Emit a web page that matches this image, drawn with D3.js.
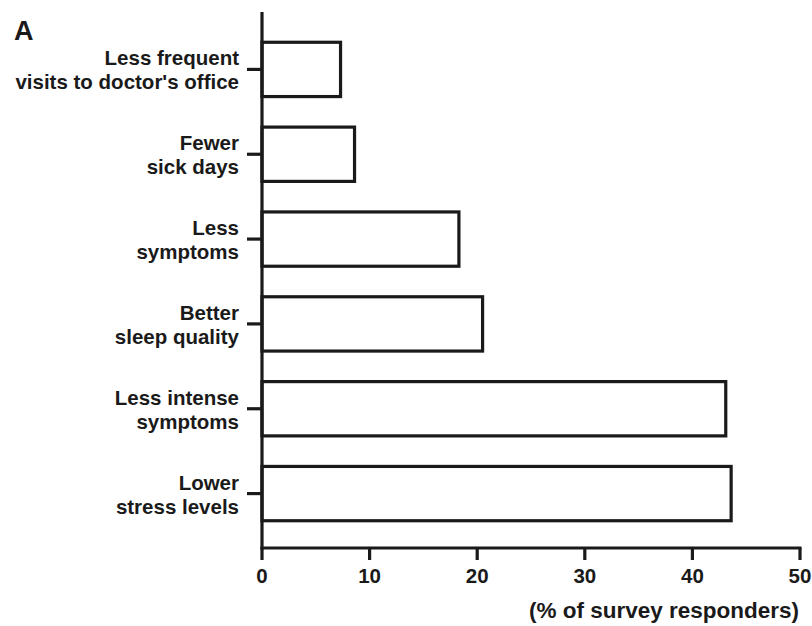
<!DOCTYPE html>
<html><head><meta charset="utf-8">
<script src="https://cdn.jsdelivr.net/npm/d3@7"></script>
<style>body{margin:0;background:#fff}svg{display:block}text{font-family:"Liberation Sans",Arial,Helvetica,sans-serif;font-weight:bold;fill:#1a1a1a}</style>
</head><body>
<svg id="c" width="812" height="626"></svg>
<script>
const categories = [
  ["Less frequent", "visits to doctor's office"],
  ["Fewer", "sick days"],
  ["Less", "symptoms"],
  ["Better", "sleep quality"],
  ["Less intense", "symptoms"],
  ["Lower", "stress levels"]
];
const values = [7.3, 8.6, 18.3, 20.5, 43.1, 43.6];
const xTicks = [0, 10, 20, 30, 40, 50];
const xTitle = "(% of survey responders)";
const panelLabel = "A";

const svg = d3.select("#c");
const ink = "#1a1a1a";
const x0 = 262, x1 = 800, yTop = 12, yAxis = 548;
const x = d3.scaleLinear().domain([0, 50]).range([x0, x1]);
const y = d3.scaleBand().domain(d3.range(categories.length)).range([27, 536]).paddingInner(0.36).paddingOuter(0.18);

// bars
svg.append("g").selectAll("rect").data(values).join("rect")
  .attr("x", x(0)).attr("y", (d, i) => y(i))
  .attr("width", d => x(d) - x(0)).attr("height", y.bandwidth())
  .attr("fill", "#fff").attr("stroke", ink).attr("stroke-width", 3.2);

// y axis
const ya = svg.append("g");
ya.append("line").attr("x1", x0).attr("x2", x0).attr("y1", yTop).attr("y2", yAxis + 1.5)
  .attr("stroke", ink).attr("stroke-width", 3.2);
ya.selectAll("line.t").data(categories).join("line").attr("class", "t")
  .attr("x1", x0 - 15).attr("x2", x0).attr("y1", (d, i) => y(i) + y.bandwidth() / 2).attr("y2", (d, i) => y(i) + y.bandwidth() / 2)
  .attr("stroke", ink).attr("stroke-width", 3.2);
ya.selectAll("text").data(categories).join("text")
  .attr("x", 239).attr("y", (d, i) => y(i) + y.bandwidth() / 2 - 4)
  .attr("text-anchor", "end").attr("font-size", 20.5)
  .each(function (d) {
    const t = d3.select(this);
    t.append("tspan").attr("x", 239).attr("dy", 0).text(d[0]);
    t.append("tspan").attr("x", 239).attr("dy", 24).text(d[1]);
  });

// x axis
const xa = svg.append("g");
xa.append("line").attr("x1", x0 - 1.5).attr("x2", x1 + 1.5).attr("y1", yAxis).attr("y2", yAxis)
  .attr("stroke", ink).attr("stroke-width", 3.2);
xa.selectAll("line.t").data(xTicks).join("line").attr("class", "t")
  .attr("x1", d => x(d)).attr("x2", d => x(d)).attr("y1", yAxis).attr("y2", yAxis + 12)
  .attr("stroke", ink).attr("stroke-width", 3.2);
xa.selectAll("text").data(xTicks).join("text")
  .attr("x", d => x(d)).attr("y", 583).attr("text-anchor", "middle").attr("font-size", 20.5)
  .text(d => d);
svg.append("text").attr("x", 799).attr("y", 618).attr("text-anchor", "end").attr("font-size", 22.5).text(xTitle);
svg.append("text").attr("x", 14).attr("y", 40).attr("font-size", 27).text(panelLabel);
</script>
</body></html>
